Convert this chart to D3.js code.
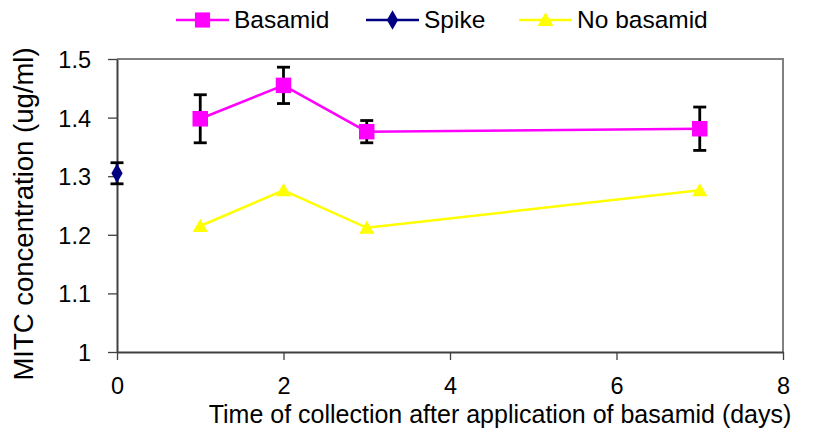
<!DOCTYPE html>
<html>
<head>
<meta charset="utf-8">
<script src="https://cdnjs.cloudflare.com/ajax/libs/d3/7.8.5/d3.min.js"></script>
<style>
  body { margin: 0; background: #fff; }
  svg text { font-family: "Liberation Sans", Arial, sans-serif; fill: #000; }
</style>
</head>
<body>
<div class="chart-container"></div>
<script>
// data
const basamidDays = [1, 2, 3, 7]
const basamidVals = [1.398, 1.455, 1.376, 1.381]
const basamidErr = [0.041, 0.031, 0.019, 0.037]
const spikeDays = [0]
const spikeVals = [1.305]
const spikeErr = [0.018]
const noBasDays = [1, 2, 3, 7]
const noBasVals = [1.215, 1.276, 1.212, 1.276]
const xTicks = [0, 2, 4, 6, 8]
const yTicks = [1, 1.1, 1.2, 1.3, 1.4, 1.5]

const svg = d3.select(".chart-container").append("svg").attr("width", 824).attr("height", 432)

const x = d3.scaleLinear().domain([0, 8]).range([117, 783])
const y = d3.scaleLinear().domain([1, 1.5]).range([352, 59])

// frame top/right
svg.append("path")
  .attr("d", `M${x(0)},${y(1.5)}H${x(8)}V${y(1)}`)
  .attr("fill", "none").attr("stroke", "#808080").attr("stroke-width", 2)

// axes
const xAxis = svg.append("g").attr("transform", `translate(0,${y(1)})`)
  .call(d3.axisBottom(x).tickValues(xTicks).tickFormat(d3.format("d")).tickSizeInner(8).tickSizeOuter(0))
const yAxis = svg.append("g").attr("transform", `translate(${x(0)},0)`)
  .call(d3.axisLeft(y).tickValues(yTicks).tickFormat(d => d === 1 ? "1" : d3.format(".1f")(d)).tickSizeInner(9).tickSizeOuter(0))
;[xAxis, yAxis].forEach(a => {
  a.select(".domain").attr("stroke", "#404040").attr("stroke-width", 2)
  a.selectAll(".tick line").attr("stroke", "#404040").attr("stroke-width", 1.3)
  a.selectAll("text").attr("font-size", 23.5).attr("font-family", "Liberation Sans, Arial, sans-serif")
})
xAxis.selectAll("text").attr("dy", null).attr("y", 42)
yAxis.selectAll("text").attr("x", -26).attr("dy", "0.36em")

// titles
svg.append("text").attr("x", 500).attr("y", 423).attr("text-anchor", "middle")
  .attr("font-size", 25).text("Time of collection after application of basamid (days)")
svg.append("text").attr("transform", `translate(33,214) rotate(-90)`)
  .attr("text-anchor", "middle").attr("font-size", 27.5).text("MITC concentration (ug/ml)")

// error bars
function errBars(days, vals, errs) {
  const g = svg.append("g").attr("stroke", "#000").attr("stroke-width", 2.8)
  days.forEach((d, i) => {
    const cx = x(d), y0 = y(vals[i] - errs[i]), y1 = y(vals[i] + errs[i])
    g.append("line").attr("x1", cx).attr("x2", cx).attr("y1", y0).attr("y2", y1)
    g.append("line").attr("x1", cx - 6.5).attr("x2", cx + 6.5).attr("y1", y0).attr("y2", y0)
    g.append("line").attr("x1", cx - 6.5).attr("x2", cx + 6.5).attr("y1", y1).attr("y2", y1)
  })
}
errBars(basamidDays, basamidVals, basamidErr)
errBars(spikeDays, spikeVals, spikeErr)

const line = d3.line().x(d => x(d[0])).y(d => y(d[1]))

function series(days, vals, color, sym, size, dy) {
  const pts = days.map((d, i) => [d, vals[i]])
  svg.append("path").datum(pts).attr("d", line)
    .attr("fill", "none").attr("stroke", color).attr("stroke-width", 2.5)
  svg.selectAll(null).data(pts).enter().append("path")
    .attr("d", d3.symbol().type(sym).size(size))
    .attr("transform", d => `translate(${x(d[0])},${y(d[1]) + dy})`)
    .attr("fill", color)
}
series(noBasDays, noBasVals, "#ffff00", d3.symbolTriangle, 100, 1.5)
series(basamidDays, basamidVals, "#ff00ff", d3.symbolSquare, 240, 0)
series(spikeDays, spikeVals, "#000080", d3.symbolDiamond, 110, 0)

// legend
const legend = [
  { name: "Basamid", color: "#ff00ff", sym: d3.symbolSquare, size: 230, x0: 176, x1: 229, dy: 0 },
  { name: "Spike", color: "#000080", sym: d3.symbolDiamond, size: 110, x0: 366, x1: 419, dy: 0 },
  { name: "No basamid", color: "#ffff00", sym: d3.symbolTriangle, size: 110, x0: 519, x1: 572, dy: 1.5 }
]
const lg = svg.append("g")
legend.forEach(l => {
  lg.append("line").attr("x1", l.x0).attr("x2", l.x1).attr("y1", 20).attr("y2", 20)
    .attr("stroke", l.color).attr("stroke-width", 2.5)
  lg.append("path").attr("d", d3.symbol().type(l.sym).size(l.size)())
    .attr("transform", `translate(${(l.x0 + l.x1) / 2},${20 + l.dy})`).attr("fill", l.color)
  lg.append("text").attr("x", l.x1 + 5).attr("y", 28).attr("font-size", 24.5).text(l.name)
})
</script>
</body>
</html>
